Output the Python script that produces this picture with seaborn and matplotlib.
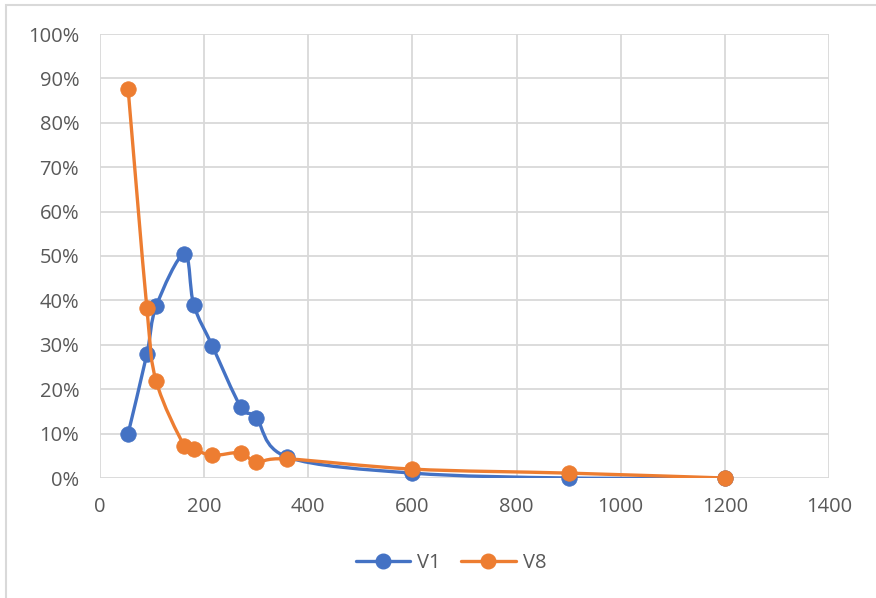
import numpy as np
import pandas as pd
import seaborn as sns
import matplotlib
matplotlib.use("Agg")
import matplotlib.pyplot as plt
from matplotlib.path import Path
from matplotlib.patches import PathPatch, Rectangle
from matplotlib.lines import Line2D
from matplotlib.ticker import PercentFormatter, MultipleLocator

# Sample times and the share recorded for each series
time = [54, 90, 108, 162, 180, 216, 270, 300, 360, 600, 900, 1200]
v1 = [0.100, 0.279, 0.387, 0.505, 0.390, 0.297, 0.161, 0.136, 0.047, 0.011, 0.000, 0.000]
v8 = [0.876, 0.383, 0.218, 0.072, 0.065, 0.051, 0.057, 0.036, 0.043, 0.020, 0.011, 0.000]
series_names = ["V1", "V8"]
colors = {"V1": "#4472C4", "V8": "#ED7D31"}

df = pd.concat([
    pd.DataFrame({"time": time, "share": v1, "series": "V1"}),
    pd.DataFrame({"time": time, "share": v8, "series": "V8"}),
], ignore_index=True)

sns.set_theme(style="white")
plt.rcParams["font.family"] = ["Open Sans", "DejaVu Sans"]

fig = plt.figure(figsize=(8.76, 5.98), dpi=100)
ax = fig.add_axes([100 / 876, 120 / 598, 729 / 876, 444 / 598])

grid_c = "#D9D9D9"
text_c = "#595959"
fs = 14.5


def smooth_path(xs, ys, tension=1 / 6):
    """Cubic Bezier through every point, Catmull-Rom style tangents."""
    pts = np.column_stack([xs, ys]).astype(float)
    n = len(pts)
    verts = [pts[0]]
    codes = [Path.MOVETO]
    for i in range(n - 1):
        p0 = pts[i - 1] if i > 0 else pts[i]
        p1 = pts[i]
        p2 = pts[i + 1]
        p3 = pts[i + 2] if i + 2 < n else pts[i + 1]
        c1 = p1 + (p2 - p0) * tension
        c2 = p2 - (p3 - p1) * tension
        verts += [c1, c2, p2]
        codes += [Path.CURVE4] * 3
    return Path(verts, codes)


z = 2
for name in series_names:
    sub = df[df["series"] == name]
    patch = PathPatch(smooth_path(sub["time"].values, sub["share"].values),
                      facecolor="none", edgecolor=colors[name], lw=2.4,
                      capstyle="round", joinstyle="round", zorder=z)
    ax.add_patch(patch)
    sns.scatterplot(data=sub, x="time", y="share", color=colors[name], s=125,
                    edgecolor=colors[name], linewidth=0.5, ax=ax, zorder=z + 1,
                    legend=False, clip_on=False)
    z += 2

ax.set_xlim(0, 1400)
ax.set_ylim(0, 1.0)
ax.xaxis.set_major_locator(MultipleLocator(200))
ax.yaxis.set_major_locator(MultipleLocator(0.1))
ax.yaxis.set_major_formatter(PercentFormatter(1.0, decimals=0))
ax.grid(True, color=grid_c, lw=1.3)
ax.set_axisbelow(True)
for sp in ax.spines.values():
    sp.set_visible(False)
ax.tick_params(axis="both", length=0, labelsize=fs, colors=text_c)
ax.tick_params(axis="y", pad=15)
ax.tick_params(axis="x", pad=14)
ax.set_xlabel("")
ax.set_ylabel("")

handles = [Line2D([0], [0], color=colors[n], lw=2.4, marker="o", markersize=10.5)
           for n in series_names]
leg = fig.legend(handles, series_names, loc="center", bbox_to_anchor=(451 / 876, 1 - 563 / 598),
                 ncol=2, frameon=False, fontsize=fs, handlelength=2.7,
                 columnspacing=1.0, handletextpad=0.35)
for t in leg.get_texts():
    t.set_color(text_c)

# Chart frame
fig.patches.append(Rectangle((6 / 876, -0.1), 1.2, (598 - 5) / 598 + 0.1,
                             transform=fig.transFigure, fill=False,
                             edgecolor="#D9D9D9", lw=1.5))

fig.savefig("out.png", dpi=100)
